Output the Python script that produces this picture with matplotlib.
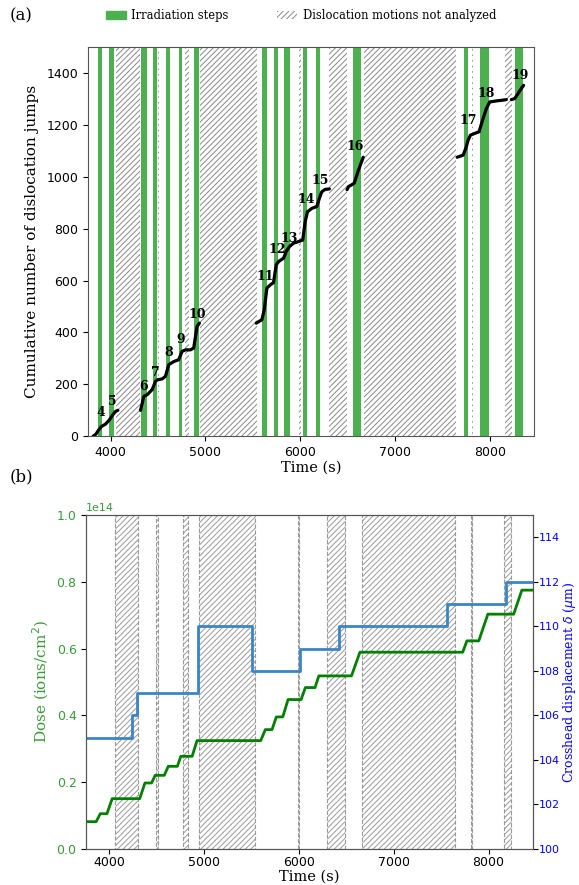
import matplotlib
matplotlib.use("Agg")
import matplotlib.pyplot as plt
import matplotlib.patches as mpatches
import numpy as np

# irradiation steps (start, end) in s
irr_start = [3866, 3980, 4325, 4450, 4584, 4722, 4877, 5600, 5719, 5832, 6025, 6172, 6556, 7728, 7897, 8265]
irr_end = [3910, 4035, 4380, 4488, 4626, 4758, 4929, 5648, 5764, 5888, 6070, 6212, 6645, 7772, 7993, 8351]
# cumulative dose after each step (x1e14 ions/cm2)
dose_start = 0.081
dose_after = [0.105, 0.150, 0.197, 0.220, 0.247, 0.277, 0.324, 0.357, 0.395, 0.447,
              0.483, 0.518, 0.589, 0.623, 0.703, 0.775]

# time windows where dislocation motions were not analyzed
na_start = [4060, 4500, 4785, 4947, 5992, 6300, 6670, 7812, 8158]
na_end = [4308, 4515, 4832, 5540, 6005, 6493, 7648, 7828, 8233]

# crosshead displacement (um), step function
cross_t = [3760, 4246, 4298, 4940, 5508, 6017, 6421, 7561, 8186, 8465]
cross_v = [105, 106, 107, 110, 108, 109, 110, 111, 112, 112]

# cumulative dislocation jumps, continuous pieces
jump_t = [
    [3815, 3845, 3877, 3905, 3947, 3989, 4024, 4053, 4077],
    [4316, 4351, 4386, 4439, 4474, 4498, 4544, 4579, 4614, 4667, 4719, 4754, 4789, 4842, 4877, 4912, 4937],
    [5537, 5596, 5621, 5649, 5684, 5719, 5747, 5772, 5825, 5853, 5888, 5930, 5982, 6027, 6053, 6077,
     6123, 6175, 6203, 6228, 6263, 6308],
    [6495, 6510, 6540, 6570, 6610, 6640, 6665],
    [7656, 7719, 7747, 7772, 7796, 7842, 7887, 7930, 7965, 8000, 8070, 8140, 8175],
    [8228, 8263, 8298, 8333, 8357],
]
jump_v = [
    [0, 8, 26, 38, 47, 64, 83, 96, 100],
    [100, 154, 160, 180, 212, 218, 221, 231, 276, 288, 295, 327, 333, 333, 340, 423, 436],
    [436, 449, 487, 571, 583, 592, 660, 673, 686, 712, 731, 744, 750, 756, 827, 865,
     878, 885, 917, 942, 951, 953],
    [950, 962, 968, 975, 1020, 1050, 1075],
    [1075, 1083, 1109, 1141, 1160, 1167, 1173, 1225, 1263, 1288, 1292, 1295, 1297],
    [1297, 1301, 1320, 1340, 1352],
]
seq_num = [4, 5, 6, 7, 8, 9, 10, 11, 12, 13, 14, 15, 16, 17, 18, 19]
seq_t = [3895, 4022, 4351, 4474, 4614, 4737, 4912, 5632, 5761, 5888, 6063, 6210, 6579, 7772, 7965, 8323]
seq_v = [90, 135, 192, 244, 321, 372, 468, 615, 718, 763, 913, 985, 1115, 1218, 1320, 1391]

GREEN = "#4caf50"
XLIM = (3762, 8465)
serif = "DejaVu Serif"

plt.rcParams["hatch.linewidth"] = 0.7
plt.rcParams["hatch.color"] = "#888888"

fig = plt.figure(figsize=(5.79, 8.85), dpi=100)
ax1 = fig.add_axes([0.152, 0.507, 0.770, 0.440])
ax2 = fig.add_axes([0.149, 0.041, 0.771, 0.377])

# ---- (a) ----
for s, e in zip(irr_start, irr_end):
    ax1.axvspan(s, e, color=GREEN, lw=0)
for s, e in zip(na_start, na_end):
    ax1.axvspan(s, e, facecolor="none", edgecolor="#888888", hatch="//////", lw=0)
for t, v in zip(jump_t, jump_v):
    ax1.plot(t, v, color="black", lw=2.3, solid_capstyle="round")
for n, t, v in zip(seq_num, seq_t, seq_v):
    ax1.text(t, v, str(n), ha="center", va="center", fontsize=9, fontweight="bold", family=serif)
ax1.set_xlim(XLIM)
ax1.set_ylim(0, 1500)
ax1.set_yticks(np.arange(0, 1401, 200))
ax1.set_xticks([4000, 5000, 6000, 7000, 8000])
ax1.set_xlabel("Time (s)", family=serif, fontsize=10.5, labelpad=1)
ax1.set_ylabel("Cumulative number of dislocation jumps", family=serif, fontsize=11, labelpad=5)
ax1.tick_params(labelsize=9)

h1 = mpatches.Patch(color=GREEN, label="Irradiation steps")
h2 = mpatches.Patch(facecolor="white", edgecolor="#888888", hatch="//////", lw=0,
                    label="Dislocation motions not analyzed")
fig.legend(handles=[h1, h2], loc="center", bbox_to_anchor=(0.52, 0.982), ncol=2, frameon=False,
           prop={"family": serif, "size": 8.3}, columnspacing=4.2, handlelength=1.7, handletextpad=0.5)
fig.text(0.017, 0.982, "(a)", family=serif, fontsize=12, va="center")
fig.text(0.017, 0.461, "(b)", family=serif, fontsize=12, va="center")

# ---- (b) ----
dose_t = [XLIM[0]]
dose_v = [dose_start]
prev = dose_start
for s, e, d in zip(irr_start, irr_end, dose_after):
    dose_t += [s, e]
    dose_v += [prev, d]
    prev = d
dose_t.append(XLIM[1])
dose_v.append(prev)

for s, e in zip(na_start, na_end):
    ax2.axvspan(s, e, facecolor="none", edgecolor="#999999", hatch="//////", lw=0.8, ls="--")
ax2.plot(dose_t, np.array(dose_v) * 1e14, color="green", lw=2)
ax2.set_xlim(XLIM)
ax2.set_ylim(0, 1e14)
ax2.set_yticks(np.arange(0, 1.01, 0.2) * 1e14)
ax2.set_xticks([4000, 5000, 6000, 7000, 8000])
ax2.set_xlabel("Time (s)", family=serif, fontsize=10.5, labelpad=0)
ax2.set_ylabel("Dose (ions/cm$^2$)", family=serif, fontsize=11, color="#3a9a3a", labelpad=4)
ax2.tick_params(axis="y", labelcolor="#3a9a3a", labelsize=9)
ax2.tick_params(axis="x", labelsize=9, pad=2)
ax2.yaxis.get_offset_text().set_color("#3a9a3a")
ax2.yaxis.get_offset_text().set_fontsize(8)

ax3 = ax2.twinx()
ax3.step(cross_t, cross_v, where="post", color="#3a85c8", lw=2)
ax3.set_ylim(100, 115)
ax3.set_yticks(np.arange(100, 115, 2))
ax3.set_ylabel(r"Crosshead displacement $\delta$ ($\mu$m)", family=serif, fontsize=9, color="blue")
ax3.yaxis.set_label_coords(1.063, 0.5)
ax3.tick_params(axis="y", labelcolor="blue", labelsize=8, pad=1)

for a in (ax1, ax2, ax3):
    for sp in a.spines.values():
        sp.set_color("#555555")

fig.savefig("out.png", dpi=100)
